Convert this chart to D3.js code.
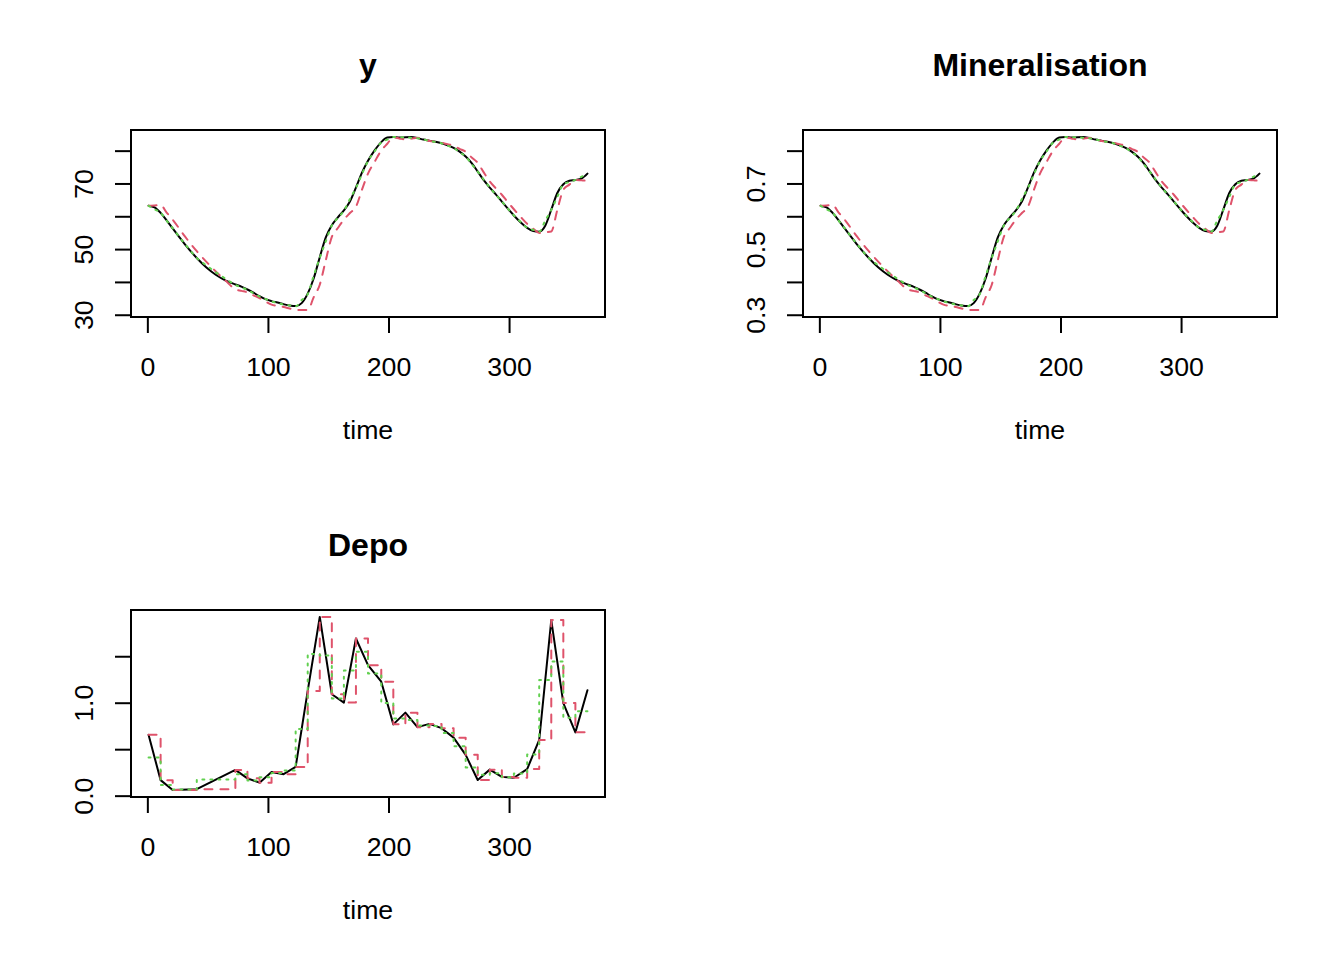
<!DOCTYPE html>
<html><head><meta charset="utf-8">
<script src="https://cdn.jsdelivr.net/npm/d3@7"></script>
<style>html,body{margin:0;padding:0;background:#fff;}svg{display:block;}</style>
</head><body>
<svg id="chart" width="1344" height="960"></svg>
<script>
// ---------- data ----------
const times = [1, 6, 11, 16, 21,
  31, 41, 49, 57, 65,
  73, 78, 83, 88, 93,
  98, 103, 108, 113, 118,
  123, 128, 133, 138, 143,
  148, 153, 158, 163, 168,
  173, 178, 183, 188.5, 194,
  199, 204, 209, 214, 219,
  224, 229, 234, 239, 244,
  249, 254, 259, 264, 269,
  274, 279, 284, 289, 294,
  299, 304, 309.5, 315, 320,
  325, 330, 335, 340, 345,
  350, 355, 360, 365];

// y : linear forcing (black), constant f=0 (red), constant f=0.5 (green)
const yLinear = [63.2, 62.71, 61.05, 58.76, 56.31,
  51.55, 47.28, 44.38, 42.11, 40.41,
  39.23, 38.56, 37.69, 36.70, 35.65,
  34.74, 34.15, 33.70, 33.21, 32.81,
  32.63, 33.55, 36.42, 41.12, 47.53,
  53.57, 57.28, 59.70, 61.78, 64.50,
  68.76, 73.30, 76.92, 80.08, 82.59,
  83.98, 84.18, 83.97, 84.08, 84.14,
  83.82, 83.37, 83.03, 82.69, 82.25,
  81.65, 80.84, 79.71, 78.19, 76.19,
  73.62, 70.99, 68.75, 66.67, 64.49,
  62.32, 60.23, 58.17, 56.46, 55.49,
  55.32, 57.13, 62.00, 67.09, 69.76,
  70.83, 71.08, 71.49, 72.99];
const yConst0 = [63.2, 63.31, 63.41, 61.13, 58.97,
  53.93, 49.37, 46.11, 43.11, 40.33,
  37.77, 37.28, 36.81, 35.92, 35.08,
  34.05, 33.07, 32.70, 32.35, 31.90,
  31.47, 31.44, 31.42, 35.38, 39.15,
  46.62, 53.72, 56.42, 58.99, 61.00,
  62.90, 68.08, 73.01, 76.62, 80.03,
  82.11, 84.08, 83.72, 83.38, 83.67,
  83.94, 83.44, 82.97, 82.69, 82.42,
  81.94, 81.49, 80.56, 79.67, 77.93,
  76.27, 73.37, 70.61, 68.53, 66.56,
  64.30, 62.15, 59.86, 57.69, 56.27,
  54.92, 55.16, 55.39, 61.90, 68.10,
  69.64, 71.10, 70.95, 70.81];
const yConstHalf = [63.2, 62.12, 61.09, 58.66, 56.36,
  51.61, 47.32, 45.02, 42.89, 40.93,
  39.11, 38.33, 37.59, 36.55, 35.56,
  34.79, 34.06, 33.58, 33.13, 32.83,
  32.55, 34.46, 36.28, 41.95, 47.34,
  52.38, 57.18, 59.49, 61.69, 65.25,
  68.63, 72.83, 76.83, 79.76, 82.52,
  83.36, 84.15, 84.09, 84.04, 83.92,
  83.80, 83.39, 83.01, 82.61, 82.24,
  81.52, 80.84, 79.49, 78.20, 75.87,
  73.65, 71.15, 68.77, 66.59, 64.52,
  62.34, 60.26, 58.32, 56.48, 55.88,
  55.32, 58.69, 61.89, 65.91, 69.73,
  70.42, 71.07, 72.03, 72.95];

// Mineralisation
const minLinear = [0.632, 0.6271, 0.6105, 0.5876, 0.5631,
  0.5155, 0.4728, 0.4438, 0.4211, 0.4041,
  0.3923, 0.3856, 0.3769, 0.3670, 0.3565,
  0.3474, 0.3415, 0.3370, 0.3321, 0.3281,
  0.3263, 0.3355, 0.3642, 0.4112, 0.4753,
  0.5357, 0.5728, 0.5970, 0.6178, 0.6450,
  0.6876, 0.7330, 0.7692, 0.8008, 0.8259,
  0.8398, 0.8418, 0.8397, 0.8408, 0.8414,
  0.8382, 0.8337, 0.8303, 0.8269, 0.8225,
  0.8165, 0.8084, 0.7971, 0.7819, 0.7619,
  0.7362, 0.7099, 0.6875, 0.6667, 0.6449,
  0.6232, 0.6023, 0.5817, 0.5646, 0.5549,
  0.5532, 0.5713, 0.6200, 0.6709, 0.6976,
  0.7083, 0.7108, 0.7149, 0.7299];
const minConst0 = [0.632, 0.6331, 0.6341, 0.6113, 0.5897,
  0.5393, 0.4937, 0.4611, 0.4311, 0.4033,
  0.3777, 0.3728, 0.3681, 0.3592, 0.3508,
  0.3405, 0.3307, 0.3270, 0.3235, 0.3190,
  0.3147, 0.3144, 0.3142, 0.3538, 0.3915,
  0.4662, 0.5372, 0.5642, 0.5899, 0.6100,
  0.6290, 0.6808, 0.7301, 0.7662, 0.8003,
  0.8211, 0.8408, 0.8372, 0.8338, 0.8367,
  0.8394, 0.8344, 0.8297, 0.8269, 0.8242,
  0.8194, 0.8149, 0.8056, 0.7967, 0.7793,
  0.7627, 0.7337, 0.7061, 0.6853, 0.6656,
  0.6430, 0.6215, 0.5986, 0.5769, 0.5627,
  0.5492, 0.5516, 0.5539, 0.6190, 0.6810,
  0.6964, 0.7110, 0.7095, 0.7081];
const minConstHalf = [0.632, 0.6212, 0.6109, 0.5866, 0.5636,
  0.5161, 0.4732, 0.4502, 0.4289, 0.4093,
  0.3911, 0.3833, 0.3759, 0.3655, 0.3556,
  0.3479, 0.3406, 0.3358, 0.3313, 0.3283,
  0.3255, 0.3446, 0.3628, 0.4195, 0.4734,
  0.5238, 0.5718, 0.5949, 0.6169, 0.6525,
  0.6863, 0.7283, 0.7683, 0.7976, 0.8252,
  0.8336, 0.8415, 0.8409, 0.8404, 0.8392,
  0.8380, 0.8339, 0.8301, 0.8261, 0.8224,
  0.8152, 0.8084, 0.7949, 0.7820, 0.7587,
  0.7365, 0.7115, 0.6877, 0.6659, 0.6452,
  0.6234, 0.6026, 0.5832, 0.5648, 0.5588,
  0.5532, 0.5869, 0.6189, 0.6591, 0.6973,
  0.7042, 0.7107, 0.7203, 0.7295];

// Depo forcing
const depoTime = [1, 11, 21, 41, 73, 83, 93, 103, 113, 123, 133,
  143, 153, 163, 173, 183, 194, 204, 214, 224, 234,
  244, 254, 264, 274, 284, 294, 304, 315, 325, 335,
  345, 355, 365];
const depoValue = [0.654, 0.167, 0.060, 0.070, 0.277, 0.186, 0.140, 0.255, 0.231, 0.309, 1.127,
  1.923, 1.091, 1.001, 1.691, 1.404, 1.226, 0.767, 0.893, 0.737, 0.772,
  0.726, 0.624, 0.439, 0.168, 0.280, 0.202, 0.193, 0.286, 0.599, 1.889,
  0.996, 0.681, 1.135];
// step values of the f = 0.5 run, one per interval
const depoConstHalf = [0.4105, 0.1135, 0.065, 0.1735, 0.2315, 0.163, 0.1975, 0.243, 0.270, 0.718,
  1.525, 1.507, 1.046, 1.346, 1.5475, 1.315, 0.9965, 0.830, 0.815, 0.7545,
  0.749, 0.675, 0.5315, 0.3035, 0.224, 0.241, 0.1975, 0.2395, 0.4425, 1.244,
  1.4425, 0.8385, 0.908];

const xTicks = [0, 100, 200, 300];
const xTickLabels = ["0", "100", "200", "300"];
const yTicksY = [30, 40, 50, 60, 70, 80];
const yTickLabelsY = ["30", "", "50", "", "70", ""];
const yTicksMin = [0.3, 0.4, 0.5, 0.6, 0.7, 0.8];
const yTickLabelsMin = ["0.3", "", "0.5", "", "0.7", ""];
const yTicksDepo = [0, 0.5, 1.0, 1.5];
const yTickLabelsDepo = ["0.0", "", "1.0", ""];
const titles = ["y", "Mineralisation", "Depo"];
const xLabel = "time";

// ---------- styles ----------
const FONT = "'Liberation Sans', Arial, Helvetica, sans-serif";
const colBlack = "#000000", colRed = "#DF536B", colGreen = "#61D04F";
const CELL_W = 672, CELL_H = 480;
const BOX = {left: 131, right: 605, top: 130, bottom: 317};

const svg = d3.select("#chart");
svg.append("rect").attr("width", 1344).attr("height", 960).attr("fill", "#fff");

function zip(ts, vs) { return ts.map((t, i) => [t, vs[i]]); }
function stepPoints(ts, vs) {
  // one value per interval, held until the last time point
  const pts = vs.map((v, i) => [ts[i], v]);
  pts.push([ts[ts.length - 1], vs[vs.length - 1]]);
  return pts;
}

function panel(col, row, title, series, yTicks, yLabels) {
  const g = svg.append("g").attr("transform", `translate(${col * CELL_W},${row * CELL_H})`);
  const tMin = d3.min(series, s => d3.min(s.pts, p => p[0]));
  const tMax = d3.max(series, s => d3.max(s.pts, p => p[0]));
  const vMin = d3.min(series, s => d3.min(s.pts, p => p[1]));
  const vMax = d3.max(series, s => d3.max(s.pts, p => p[1]));
  const dt = (tMax - tMin) * 0.04, dv = (vMax - vMin) * 0.04;
  const x = d3.scaleLinear().domain([tMin - dt, tMax + dt]).range([BOX.left, BOX.right]);
  const y = d3.scaleLinear().domain([vMin - dv, vMax + dv]).range([BOX.bottom, BOX.top]);

  series.forEach(s => {
    const line = d3.line().x(p => x(p[0])).y(p => y(p[1])).curve(s.curve);
    g.append("path").attr("d", line(s.pts))
      .attr("fill", "none").attr("stroke", s.color).attr("stroke-width", 2)
      .attr("stroke-dasharray", s.dash || null)
      .attr("stroke-linejoin", "round")
      .attr("stroke-linecap", "round");
  });

  g.append("rect").attr("x", BOX.left).attr("y", BOX.top)
    .attr("width", BOX.right - BOX.left).attr("height", BOX.bottom - BOX.top)
    .attr("fill", "none").attr("stroke", "#000").attr("stroke-width", 2);

  const xa = g.append("g").attr("transform", `translate(0,${BOX.bottom})`)
    .call(d3.axisBottom(x).tickValues(xTicks).tickSize(16).tickSizeOuter(0)
      .tickFormat((d, i) => xTickLabels[i]));
  xa.select(".domain").attr("d", `M${x(xTicks[0])},0H${x(xTicks[xTicks.length - 1])}`)
    .attr("stroke-width", 2);
  xa.selectAll(".tick line").attr("stroke-width", 2);
  xa.selectAll(".tick text").attr("y", 58.5).attr("dy", null)
    .attr("font-family", FONT).attr("font-size", "26.7px").attr("fill", "#000");

  const ya = g.append("g").attr("transform", `translate(${BOX.left},0)`)
    .call(d3.axisLeft(y).tickValues(yTicks).tickSize(16).tickSizeOuter(0)
      .tickFormat((d, i) => yLabels[i]));
  ya.select(".domain").attr("d", `M0,${y(yTicks[0])}V${y(yTicks[yTicks.length - 1])}`)
    .attr("stroke-width", 2);
  ya.selectAll(".tick line").attr("stroke-width", 2);
  ya.selectAll(".tick text").attr("x", 0).attr("y", -38).attr("dy", null)
    .attr("transform", "rotate(-90)").attr("text-anchor", "middle")
    .attr("font-family", FONT).attr("font-size", "26.7px").attr("fill", "#000");
  ya.attr("font-family", null); xa.attr("font-family", null);

  const cx = (BOX.left + BOX.right) / 2;
  g.append("text").attr("x", cx).attr("y", BOX.top - 54.5).attr("text-anchor", "middle")
    .attr("font-family", FONT).attr("font-size", "32px").attr("font-weight", "bold")
    .text(title);
  g.append("text").attr("x", cx).attr("y", BOX.bottom + 121.5).attr("text-anchor", "middle")
    .attr("font-family", FONT).attr("font-size", "26.7px").text(xLabel);
}

const smooth = d3.curveMonotoneX;
panel(0, 0, titles[0], [
  {pts: zip(times, yLinear), curve: smooth, color: colBlack},
  {pts: zip(times, yConst0), curve: smooth, color: colRed, dash: "8,8"},
  {pts: zip(times, yConstHalf), curve: smooth, color: colGreen, dash: "2,6"}
], yTicksY, yTickLabelsY);

panel(1, 0, titles[1], [
  {pts: zip(times, minLinear), curve: smooth, color: colBlack},
  {pts: zip(times, minConst0), curve: smooth, color: colRed, dash: "8,8"},
  {pts: zip(times, minConstHalf), curve: smooth, color: colGreen, dash: "2,6"}
], yTicksMin, yTickLabelsMin);

panel(0, 1, titles[2], [
  {pts: zip(depoTime, depoValue), curve: d3.curveLinear, color: colBlack},
  {pts: stepPoints(depoTime, depoValue.slice(0, -1)), curve: d3.curveStepAfter, color: colRed, dash: "8,8"},
  {pts: stepPoints(depoTime, depoConstHalf), curve: d3.curveStepAfter, color: colGreen, dash: "2,6"}
], yTicksDepo, yTickLabelsDepo);
</script>
</body></html>
